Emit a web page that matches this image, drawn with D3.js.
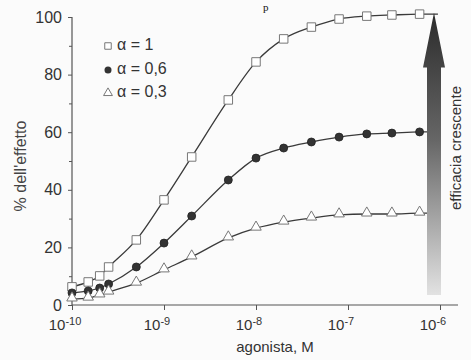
<!DOCTYPE html>
<html>
<head>
<meta charset="utf-8">
<script src="https://cdn.jsdelivr.net/npm/d3@7"></script>
<style>
  html, body { margin: 0; padding: 0; background: #fbfbfb; }
  svg { display: block; }
  text { font-family: "Liberation Sans", Arial, sans-serif; fill: #333; }
</style>
</head>
<body>
<svg id="chart" width="471" height="360"></svg>
<script>
// ---- data ----
const concentrations = [1e-10, 1.5e-10, 2e-10, 2.5e-10, 5e-10, 1e-9, 2e-9, 5e-9, 1e-8, 2e-8, 4e-8, 8e-8, 1.6e-7, 3e-7, 6e-7];
const lineEndConc = 9.5e-7;
const alpha1 = [6.3, 8.0, 10.1, 13.2, 22.6, 36.5, 51.4, 71.2, 84.4, 92.4, 96.5, 99.3, 100.3, 100.7, 101.0];
const alpha06 = [4.2, 4.9, 5.9, 7.3, 13.2, 21.5, 30.9, 43.4, 51.0, 54.5, 56.6, 58.3, 59.4, 59.7, 60.1];
const alpha03 = [2.1, 2.4, 3.5, 4.5, 7.6, 12.2, 16.7, 23.3, 26.7, 28.8, 30.2, 31.3, 31.6, 31.6, 31.9];
const seriesNames = ["α = 1", "α = 0,6", "α = 0,3"];
const xTickValues = [1e-10, 1e-9, 1e-8, 1e-7, 1e-6];
const xTickExponents = ["-10", "-9", "-8", "-7", "-6"];
const yTickValues = [0, 20, 40, 60, 80, 100];
const yMinorTicks = [10, 30, 50, 70, 90];
const xTitle = "agonista, M";
const yTitle = "% dell'effetto";
const arrowLabel = "efficacia crescente";

// ---- chart ----
const svg = d3.select("#chart");
const x = d3.scaleLog().domain([1e-10, 1e-6]).range([72, 440]);
const y = d3.scaleLinear().domain([0, 100]).range([305, 17]);

// glyph fragment at top (from surrounding page)
svg.append("text").attr("x", 263).attr("y", 11)
  .style("font-family", "'Liberation Serif', 'Times New Roman', serif")
  .style("font-size", "11px").style("fill", "#111").text("p");

// axes
const axisColor = "#555";
svg.append("line").attr("x1", x(1e-10)).attr("x2", 458).attr("y1", y(0)).attr("y2", y(0))
  .attr("stroke", axisColor).attr("stroke-width", 1.2);
svg.append("line").attr("x1", x(1e-10)).attr("x2", x(1e-10)).attr("y1", y(0)).attr("y2", y(100))
  .attr("stroke", axisColor).attr("stroke-width", 1.2);

const xAxis = d3.axisBottom(x).tickValues(xTickValues).tickSize(5).tickFormat("");
const gx = svg.append("g").attr("transform", `translate(0,${y(0)})`).call(xAxis);
gx.select(".domain").remove();
gx.selectAll(".tick line").attr("stroke", axisColor);

const xl = svg.append("g").selectAll("text").data(xTickValues).join("text")
  .attr("x", d => x(d) - 7).attr("y", 330)
  .attr("text-anchor", "middle")
  .style("font-size", "15px");
xl.append("tspan").text("10");
xl.append("tspan").attr("dy", -5).style("font-size", "11px").text((d, i) => xTickExponents[i]);

const yAxis = d3.axisLeft(y).tickValues(yTickValues).tickSize(4).tickPadding(6);
const gy = svg.append("g").attr("transform", `translate(${x(1e-10)},0)`).call(yAxis);
gy.select(".domain").remove();
gy.selectAll(".tick line").attr("stroke", axisColor);
gy.selectAll(".tick text").style("font-size", "16px").style("fill", "#333")
  .style("font-family", "'Liberation Sans', Arial, sans-serif");
const gym = svg.append("g").attr("transform", `translate(${x(1e-10)},0)`)
  .call(d3.axisLeft(y).tickValues(yMinorTicks).tickSize(3).tickFormat(""));
gym.select(".domain").remove();
gym.selectAll(".tick line").attr("stroke", axisColor);

// titles
svg.append("text").attr("x", 275).attr("y", 352).attr("text-anchor", "middle")
  .style("font-size", "15px").text(xTitle);
svg.append("text").attr("transform", "translate(26,166) rotate(-90)").attr("text-anchor", "middle")
  .style("font-size", "16px").style("fill", "#444").text(yTitle);

// lines
const series = [alpha1, alpha06, alpha03];
const line = d3.line().x(d => x(d[0])).y(d => y(d[1])).curve(d3.curveMonotoneX);
series.forEach(vals => {
  const pts = concentrations.map((c, i) => [c, vals[i]]);
  pts.push([lineEndConc, vals[vals.length - 1]]);
  svg.append("path").attr("d", line(pts)).attr("fill", "none")
    .attr("stroke", "#3a3a3a").attr("stroke-width", 1.3);
});

// markers
const sq = d3.symbol().type(d3.symbolSquare).size(72);
const tri = d3.symbol().type(d3.symbolTriangle).size(48);
svg.append("g").selectAll("path").data(concentrations.map((c, i) => [c, alpha1[i]])).join("path")
  .attr("d", sq).attr("transform", d => `translate(${x(d[0])},${y(d[1])})`)
  .attr("fill", "#fff").attr("stroke", "#777").attr("stroke-width", 1);
svg.append("g").selectAll("circle").data(concentrations.map((c, i) => [c, alpha06[i]])).join("circle")
  .attr("cx", d => x(d[0])).attr("cy", d => y(d[1])).attr("r", 4)
  .attr("fill", "#333").attr("stroke", "#222").attr("stroke-width", 0.8);
svg.append("g").selectAll("path").data(concentrations.map((c, i) => [c, alpha03[i]])).join("path")
  .attr("d", tri).attr("transform", d => `translate(${x(d[0])},${y(d[1]) - 1})`)
  .attr("fill", "#fff").attr("stroke", "#777").attr("stroke-width", 1);

// legend
const legY = [46, 70, 93];
svg.append("path").attr("d", d3.symbol().type(d3.symbolSquare).size(42)())
  .attr("transform", `translate(108,${legY[0]})`).attr("fill", "#fff").attr("stroke", "#777");
svg.append("circle").attr("cx", 108).attr("cy", legY[1]).attr("r", 3.5).attr("fill", "#333");
svg.append("path").attr("d", d3.symbol().type(d3.symbolTriangle).size(34)())
  .attr("transform", `translate(108,${legY[2]})`).attr("fill", "#fff").attr("stroke", "#777");
svg.append("g").selectAll("text").data(seriesNames).join("text")
  .attr("x", 117).attr("y", (d, i) => legY[i] + 4)
  .style("font-size", "16px").text(d => d);

// gradient arrow
const defs = svg.append("defs");
const grad = defs.append("linearGradient").attr("id", "arrowGrad")
  .attr("x1", 0).attr("y1", 0).attr("x2", 0).attr("y2", 1);
grad.append("stop").attr("offset", "0%").attr("stop-color", "#2b2b2b");
grad.append("stop").attr("offset", "45%").attr("stop-color", "#666");
grad.append("stop").attr("offset", "100%").attr("stop-color", "#e2e2e2");
const arrowTop = y(101.5), arrowHeadBase = y(82.5), arrowBottom = y(3.5);
svg.append("path")
  .attr("d", `M434,${arrowTop} L445,${arrowHeadBase} L441,${arrowHeadBase} L441,${arrowBottom} L427,${arrowBottom} L427,${arrowHeadBase} L423,${arrowHeadBase} Z`)
  .attr("fill", "url(#arrowGrad)");
svg.append("text").attr("transform", "translate(461,148) rotate(-90)").attr("text-anchor", "middle")
  .style("font-size", "15px").text(arrowLabel);
</script>
</body>
</html>
